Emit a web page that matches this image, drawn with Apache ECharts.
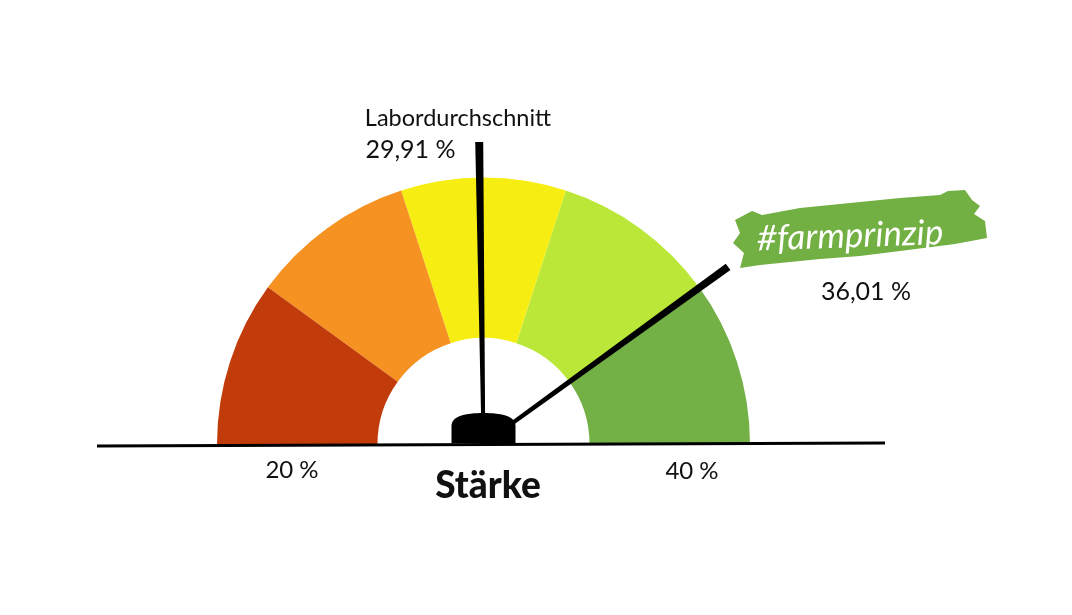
<!DOCTYPE html>
<html>
<head>
<meta charset="utf-8">
<script src="https://cdn.jsdelivr.net/npm/echarts@6/dist/echarts.min.js"></script>
<style>
html,body{margin:0;padding:0;background:#fff;}
#chart{width:1072px;height:615px;}
</style>
</head>
<body>
<div id="chart"></div>
<script>
// ---- data ----
const axisMin = 20;
const axisMax = 40;
const bandStops = [24, 28, 32, 36, 40];
const bandColors = ['#c13c0a', '#f59222', '#f6ee13', '#bbe838', '#73b046'];
const pointerNames = ['Labordurchschnitt', '#farmprinzip'];
const pointerValues = [29.91, 36.01];
const pointerLabels = ['29,91 %', '36,01 %'];
const tickLabels = ['20 %', '40 %'];
const axisTitle = 'Stärke';

const FONT = 'Lato, "DejaVu Sans", sans-serif';
const cx = 483.5, cy = 444, R = 266.5, r = 106;

const chart = echarts.init(document.getElementById('chart'), null, {renderer: 'canvas'});

const lineColors = bandStops.map((s, i) => [(s - axisMin) / (axisMax - axisMin), bandColors[i]]);

const titleOffsets = [[-25.5, -326], [0, 0]];
const detailOffsets = [[-73, -294], [382.5, -152]];

const gaugeData = pointerValues.map((v, i) => ({
  value: v,
  name: pointerNames[i],
  title: {show: i === 0, offsetCenter: titleOffsets[i], fontSize: 23.5, color: '#111', fontFamily: FONT},
  detail: {offsetCenter: detailOffsets[i], formatter: () => pointerLabels[i]}
}));

const option = {
  animation: false,
  backgroundColor: '#fff',
  series: [{
    type: 'gauge',
    center: [cx, cy],
    radius: R,
    startAngle: 180,
    endAngle: 0,
    min: axisMin,
    max: axisMax,
    splitNumber: 5,
    axisLine: {lineStyle: {width: R - r, color: lineColors}},
    axisTick: {show: false},
    splitLine: {show: false},
    axisLabel: {show: false},
    pointer: {
      icon: 'path://M0,0 L8,0 L5.8,100 L2.2,100 Z',
      length: 302,
      width: 8,
      itemStyle: {color: '#000'}
    },
    anchor: {
      show: true,
      showAbove: true,
      icon: 'path://M0,30 L0,13 C0,3 14,0 32,0 C50,0 64,3 64,13 L64,30 Z',
      size: 64,
      keepAspect: true,
      offsetCenter: [0, -16],
      itemStyle: {color: '#000'}
    },
    title: {fontSize: 23.5, color: '#111', fontFamily: FONT},
    detail: {
      fontSize: 25,
      color: '#111',
      fontWeight: 'normal',
      fontFamily: FONT,
      valueAnimation: false
    },
    data: gaugeData
  }],
  graphic: [
    {
      type: 'line', z: 100,
      shape: {x1: 97, y1: 446, x2: 885, y2: 443},
      style: {stroke: '#000', lineWidth: 3}
    },
    {
      type: 'text', x: 292, y: 470,
      style: {text: tickLabels[0], font: '24px ' + FONT, fill: '#111', textAlign: 'center', textVerticalAlign: 'middle'}
    },
    {
      type: 'text', x: 692, y: 471,
      style: {text: tickLabels[1], font: '24px ' + FONT, fill: '#111', textAlign: 'center', textVerticalAlign: 'middle'}
    },
    {
      type: 'text', x: 488, y: 486,
      style: {text: axisTitle, font: '900 37px ' + FONT, fill: '#111', textAlign: 'center', textVerticalAlign: 'middle'}
    },
    {
      type: 'polygon', z: 50,
      shape: {points: [[735,220],[752,211],[762,215],[800,208],[850,203],[900,198],[940,195],[948,191],[965,190],[972,200],[980,206],[974,214],[985,221],[987,238],[955,244],[900,251],[860,256],[820,259],[790,262],[760,265],[740,268],[744,253],[733,243],[740,233]]},
      style: {fill: '#73b043'}
    },
    {
      type: 'text', z: 51, x: 850, y: 236, rotation: 0.035,
      style: {text: pointerNames[1], font: 'italic 35px ' + FONT, fill: '#fff', textAlign: 'center', textVerticalAlign: 'middle'}
    }
  ]
};
chart.setOption(option);
</script>
</body>
</html>
